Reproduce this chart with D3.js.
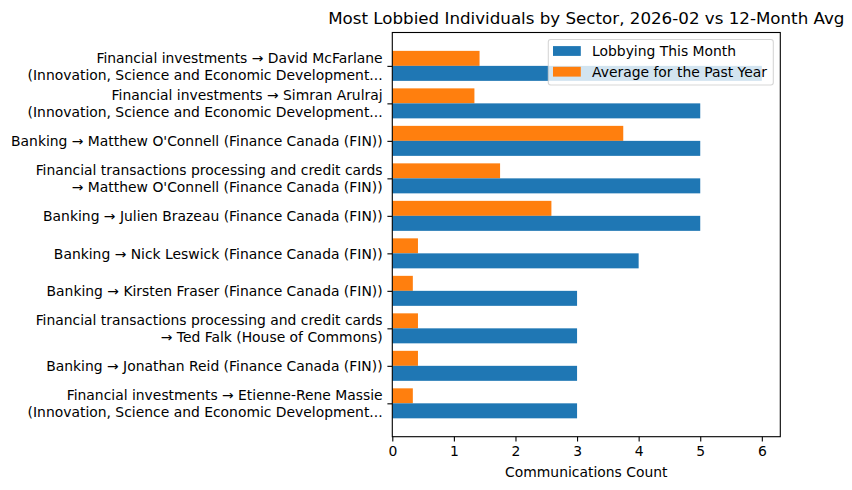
<!DOCTYPE html>
<html>
<head>
<meta charset="utf-8">
<script src="https://cdn.jsdelivr.net/npm/d3@7"></script>
<style>
  body { margin: 0; background: #fff; }
  svg, svg text { font-family: "DejaVu Sans", sans-serif; }
</style>
</head>
<body>
<div id="chart"></div>
<script>
// chart data
const labels = [
  ["Financial investments \u2192 David McFarlane", "(Innovation, Science and Economic Development..."],
  ["Financial investments \u2192 Simran Arulraj", "(Innovation, Science and Economic Development..."],
  ["Banking \u2192 Matthew O'Connell (Finance Canada (FIN))"],
  ["Financial transactions processing and credit cards", "\u2192 Matthew O'Connell (Finance Canada (FIN))"],
  ["Banking \u2192 Julien Brazeau (Finance Canada (FIN))"],
  ["Banking \u2192 Nick Leswick (Finance Canada (FIN))"],
  ["Banking \u2192 Kirsten Fraser (Finance Canada (FIN))"],
  ["Financial transactions processing and credit cards", "\u2192 Ted Falk (House of Commons)"],
  ["Banking \u2192 Jonathan Reid (Finance Canada (FIN))"],
  ["Financial investments \u2192 Etienne-Rene Massie", "(Innovation, Science and Economic Development..."]
];
const thisMonth = [6, 5, 5, 5, 5, 4, 3, 3, 3, 3];
const pastYearAvg = [17/12, 16/12, 45/12, 21/12, 31/12, 5/12, 4/12, 5/12, 5/12, 4/12];
const xTicks = [0, 1, 2, 3, 4, 5, 6];
const seriesNames = ["Lobbying This Month", "Average for the Past Year"];

const width = 852, height = 490;
const margin = {top: 32.5, right: 71.7, bottom: 53.3, left: 392.3};
const colors = ["#1f77b4", "#ff7f0e"];
const barH = 0.4;

const svg = d3.select("#chart")
  .append("svg")
  .attr("width", width)
  .attr("height", height);

// scales (matplotlib style 5% margins)
const xScale = d3.scaleLinear()
  .domain([0, 6.3])
  .range([margin.left, width - margin.right]);

const yScale = d3.scaleLinear()
  .domain([-0.89, labels.length - 1 + 0.89])
  .range([margin.top, height - margin.bottom]);

// orange bars (above tick)
svg.selectAll(".avg")
  .data(pastYearAvg)
  .enter()
  .append("rect")
    .attr("class", "avg")
    .attr("x", xScale(0))
    .attr("y", (d, i) => yScale(i - barH))
    .attr("width", d => xScale(d) - xScale(0))
    .attr("height", yScale(barH) - yScale(0))
    .attr("fill", colors[1]);

// blue bars (below tick)
svg.selectAll(".month")
  .data(thisMonth)
  .enter()
  .append("rect")
    .attr("class", "month")
    .attr("x", xScale(0))
    .attr("y", (d, i) => yScale(i))
    .attr("width", d => xScale(d) - xScale(0))
    .attr("height", yScale(barH) - yScale(0))
    .attr("fill", colors[0]);

// x axis
const xAxis = svg.append("g")
  .attr("transform", `translate(0,${height - margin.bottom})`)
  .call(d3.axisBottom(xScale).tickValues(xTicks).tickFormat(d3.format("d")).tickSize(4.9).tickPadding(4.5))
  .attr("font-family", "DejaVu Sans")
  .attr("font-size", "13.9px");
xAxis.select(".domain").remove();
xAxis.selectAll("line").attr("stroke", "#000").attr("stroke-width", 1.1);
xAxis.selectAll("text").attr("fill", "#000");

// y axis
const yAxis = svg.append("g")
  .attr("transform", `translate(${margin.left},0)`)
  .call(d3.axisLeft(yScale).tickValues(d3.range(labels.length)).tickSize(4.9).tickPadding(4.8).tickFormat(""))
  .attr("font-family", "DejaVu Sans")
  .attr("font-size", "13.9px");
yAxis.select(".domain").remove();
yAxis.selectAll("line").attr("stroke", "#000").attr("stroke-width", 1.1);
yAxis.selectAll(".tick text")
  .attr("fill", "#000")
  .attr("dy", null)
  .each(function(d) {
    const lines = labels[d];
    const lh = 16.7;
    const t = d3.select(this);
    lines.forEach((ln, k) => {
      t.append("tspan")
        .attr("x", -9.7)
        .attr("y", (k - (lines.length - 1) / 2) * lh)
        .attr("dy", "0.35em")
        .text(ln);
    });
  });

// frame
svg.append("rect")
  .attr("x", margin.left)
  .attr("y", margin.top)
  .attr("width", width - margin.left - margin.right)
  .attr("height", height - margin.top - margin.bottom)
  .attr("fill", "none")
  .attr("stroke", "#000")
  .attr("stroke-width", 1.1);

// title
svg.append("text")
  .attr("x", (margin.left + width - margin.right) / 2)
  .attr("y", 24.2)
  .attr("text-anchor", "middle")
  .attr("font-size", "16.7px")
  .text("Most Lobbied Individuals by Sector, 2026-02 vs 12-Month Avg");

// x label
svg.append("text")
  .attr("x", (margin.left + width - margin.right) / 2)
  .attr("y", 476.5)
  .attr("text-anchor", "middle")
  .attr("font-size", "13.9px")
  .text("Communications Count");

// legend
const legend = svg.append("g");
legend.append("rect")
  .attr("x", 548.3)
  .attr("y", 39.5)
  .attr("width", 225)
  .attr("height", 45.5)
  .attr("rx", 2.5)
  .attr("fill", "#fff")
  .attr("fill-opacity", 0.8)
  .attr("stroke", "#ccc")
  .attr("stroke-opacity", 0.8)
  .attr("stroke-width", 1.1);

seriesNames.forEach((name, i) => {
  const cy = 51 + i * 20.7;
  legend.append("rect")
    .attr("x", 553)
    .attr("y", cy - 4.9)
    .attr("width", 27.8)
    .attr("height", 9.8)
    .attr("fill", colors[i]);
  legend.append("text")
    .attr("x", 592)
    .attr("y", cy)
    .attr("dy", "0.35em")
    .attr("font-size", "13.9px")
    .text(name);
});
</script>
</body>
</html>
